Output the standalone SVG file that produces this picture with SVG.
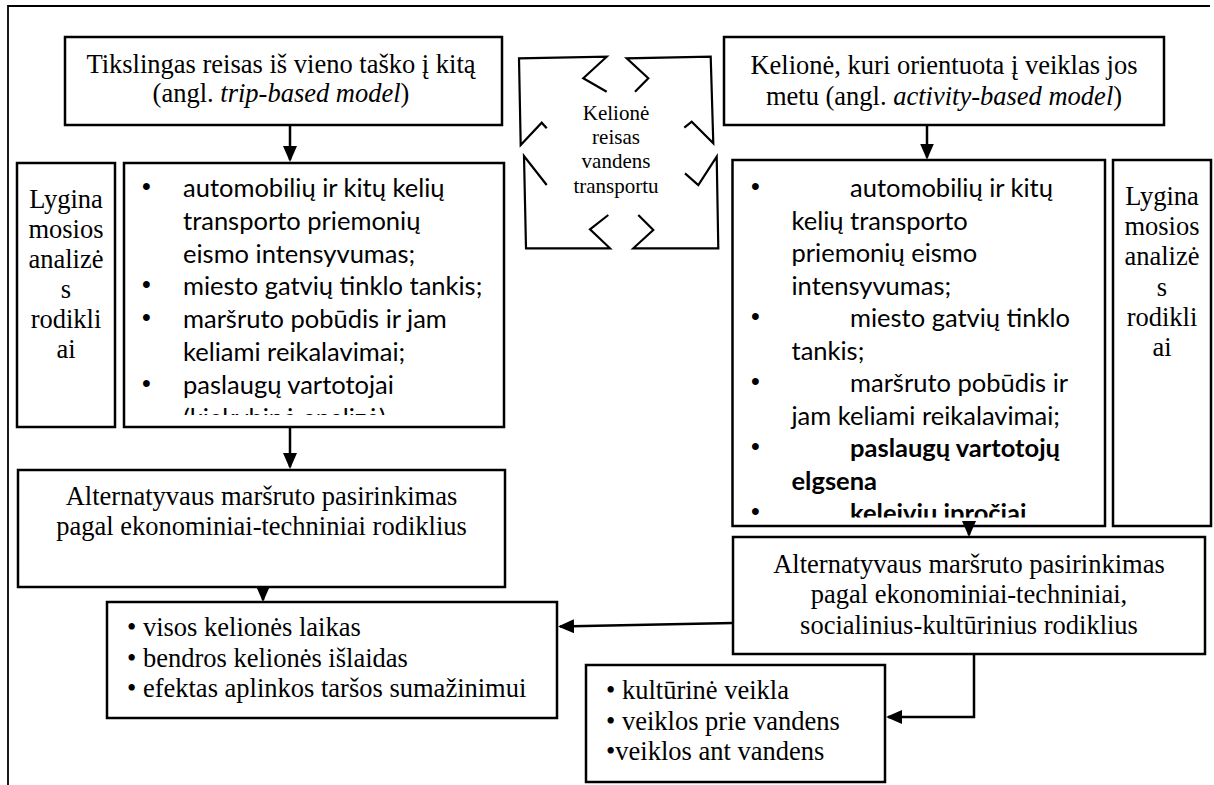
<svg xmlns="http://www.w3.org/2000/svg" width="1214" height="785" viewBox="0 0 1214 785">
<style>
.box{fill:#fff;stroke:#000;stroke-width:2.5}
.ln{fill:none;stroke:#000;stroke-width:2.5}
.shp{fill:none;stroke:#000;stroke-width:2.2;stroke-linejoin:miter}
.frame{fill:none;stroke:#000;stroke-width:1.8}
.t{font-family:"Liberation Serif","Times New Roman",serif;font-size:26.5px;fill:#000}
.c{text-anchor:middle}
.s{font-family:Lato,"Liberation Sans",sans-serif;font-size:25.5px;fill:#000}
.bl{font-family:"Liberation Sans",Arial,sans-serif;font-size:25px;fill:#000}
.b{font-weight:bold}
.sm{font-size:21px}
</style>
<defs>
<marker id="ah" markerUnits="userSpaceOnUse" markerWidth="16" markerHeight="14" refX="14" refY="7" orient="auto"><path d="M0,0 L16,7 L0,14 z" fill="#000"/></marker>
<clipPath id="clipL"><rect x="125" y="164" width="378" height="251"/></clipPath>
<clipPath id="clipR"><rect x="734" y="161" width="370" height="356.5"/></clipPath>
</defs>
<rect x="0" y="0" width="1214" height="785" fill="#fff"/>
<path class="frame" d="M8,785 V6 H1210"/>

<g id="trip-model">
<rect class="box" x="65" y="37" width="437" height="88"/>
<text class="t c" x="281" y="73">Tikslingas reisas iš vieno taško į kitą</text>
<text class="t c" x="281" y="102">(angl. <tspan font-style="italic">trip-based model</tspan>)</text>
</g>

<g id="activity-model">
<rect class="box" x="724" y="37" width="440" height="88"/>
<text class="t c" x="944" y="74">Kelionė, kuri orientuota į veiklas jos</text>
<text class="t c" x="944" y="105">metu (angl. <tspan font-style="italic">activity-based model</tspan>)</text>
</g>

<g id="center">
<polyline class="shp" points="546.7,128.3 541.7,122.7 520.7,145 519,58.3 606.7,56.7 583.3,78.3 606.7,91.7"/>
<polyline class="shp" points="635,91.7 648.3,78.3 626.7,58.3 710.7,56.7 713.3,143.3 691.7,121.7 684.3,127.7"/>
<polyline class="shp" points="546.7,185 524,156 526,248.3 610,248.3 590,229.3 608.3,215"/>
<polyline class="shp" points="685,173.3 698.3,185 716.7,156.7 718.3,248.3 633.3,248.3 653.3,230 638.3,215"/>
<text class="t c sm" x="616" y="120">Kelionė</text>
<text class="t c sm" x="616" y="144">reisas</text>
<text class="t c sm" x="616" y="168">vandens</text>
<text class="t c sm" x="616" y="193">transportu</text>
</g>

<g id="lyg-left">
<rect class="box" x="17" y="163" width="98" height="264"/>
<text class="t c" x="66" y="208">Lygina</text>
<text class="t c" x="66" y="238">mosios</text>
<text class="t c" x="66" y="268">analizė</text>
<text class="t c" x="66" y="298">s</text>
<text class="t c" x="66" y="328">rodikli</text>
<text class="t c" x="66" y="358">ai</text>
</g>

<g id="list-left">
<rect class="box" x="124" y="163" width="380" height="264"/>
<g clip-path="url(#clipL)">
<text class="bl" x="142" y="195">•</text><text class="s" x="183" y="197">automobilių ir kitų kelių</text>
<text class="s" x="183" y="229.8">transporto priemonių</text>
<text class="s" x="183" y="262.6">eismo intensyvumas;</text>
<text class="bl" x="142" y="293.4">•</text><text class="s" x="183" y="295.4">miesto gatvių tinklo tankis;</text>
<text class="bl" x="142" y="326.2">•</text><text class="s" x="183" y="328.2">maršruto pobūdis ir jam</text>
<text class="s" x="183" y="361">keliami reikalavimai;</text>
<text class="bl" x="142" y="391.8">•</text><text class="s" x="183" y="393.8">paslaugų vartotojai</text>
<text class="s" x="183" y="426.6">(kiekybinė analizė)</text>
</g>
</g>

<g id="list-right">
<rect class="box" x="732.5" y="160" width="372.5" height="366"/>
<g clip-path="url(#clipR)">
<text class="bl" x="751" y="195">•</text><text class="s" x="850" y="197">automobilių ir kitų</text>
<text class="s" x="791.5" y="229.5">kelių transporto</text>
<text class="s" x="791.5" y="262">priemonių eismo</text>
<text class="s" x="791.5" y="294.5">intensyvumas;</text>
<text class="bl" x="751" y="325">•</text><text class="s" x="850" y="327">miesto gatvių tinklo</text>
<text class="s" x="791.5" y="359.5">tankis;</text>
<text class="bl" x="751" y="390">•</text><text class="s" x="850" y="392">maršruto pobūdis ir</text>
<text class="s" x="791.5" y="424.5">jam keliami reikalavimai;</text>
<text class="bl" x="751" y="455">•</text><text class="s b" x="850" y="457">paslaugų vartotojų</text>
<text class="s b" x="791.5" y="489.5">elgsena</text>
<text class="bl" x="751" y="520">•</text><text class="s b" x="850" y="522">keleivių įpročiai</text>
</g>
</g>

<g id="lyg-right">
<rect class="box" x="1113" y="160" width="98" height="366"/>
<text class="t c" x="1162" y="205">Lygina</text>
<text class="t c" x="1162" y="235">mosios</text>
<text class="t c" x="1162" y="265">analizė</text>
<text class="t c" x="1162" y="296">s</text>
<text class="t c" x="1162" y="326">rodikli</text>
<text class="t c" x="1162" y="356">ai</text>
</g>

<g id="alt-left">
<rect class="box" x="18" y="470" width="487" height="117"/>
<text class="t c" x="261.5" y="505">Alternatyvaus maršruto pasirinkimas</text>
<text class="t c" x="261.5" y="535">pagal ekonominiai-techniniai rodiklius</text>
</g>

<g id="alt-right">
<rect class="box" x="733" y="537" width="472" height="117"/>
<text class="t c" x="969" y="573">Alternatyvaus maršruto pasirinkimas</text>
<text class="t c" x="969" y="603">pagal ekonominiai-techniniai,</text>
<text class="t c" x="969" y="634">socialinius-kultūrinius rodiklius</text>
</g>

<g id="result-left">
<rect class="box" x="107" y="602" width="450" height="116"/>
<text class="t" x="127" y="636">• visos kelionės laikas</text>
<text class="t" x="127" y="666.7">• bendros kelionės išlaidas</text>
<text class="t" x="127" y="697">• efektas aplinkos taršos sumažinimui</text>
</g>

<g id="result-right">
<rect class="box" x="586" y="665" width="299" height="117"/>
<text class="t" x="606" y="699">• kultūrinė veikla</text>
<text class="t" x="606" y="730">• veiklos prie vandens</text>
<text class="t" x="606" y="760">•veiklos ant vandens</text>
</g>

<g id="connectors">
<path class="ln" d="M290,125 V160" marker-end="url(#ah)"/>
<path class="ln" d="M290,427 V467" marker-end="url(#ah)"/>
<path class="ln" d="M263,587 V600" marker-end="url(#ah)"/>
<path class="ln" d="M927,125 V157.5" marker-end="url(#ah)"/>
<path class="ln" d="M969,526 V535" marker-end="url(#ah)"/>
<path class="ln" d="M733,623 L560,626.5" marker-end="url(#ah)"/>
<path class="ln" d="M974,654 V717 H888" marker-end="url(#ah)"/>
</g>
</svg>
